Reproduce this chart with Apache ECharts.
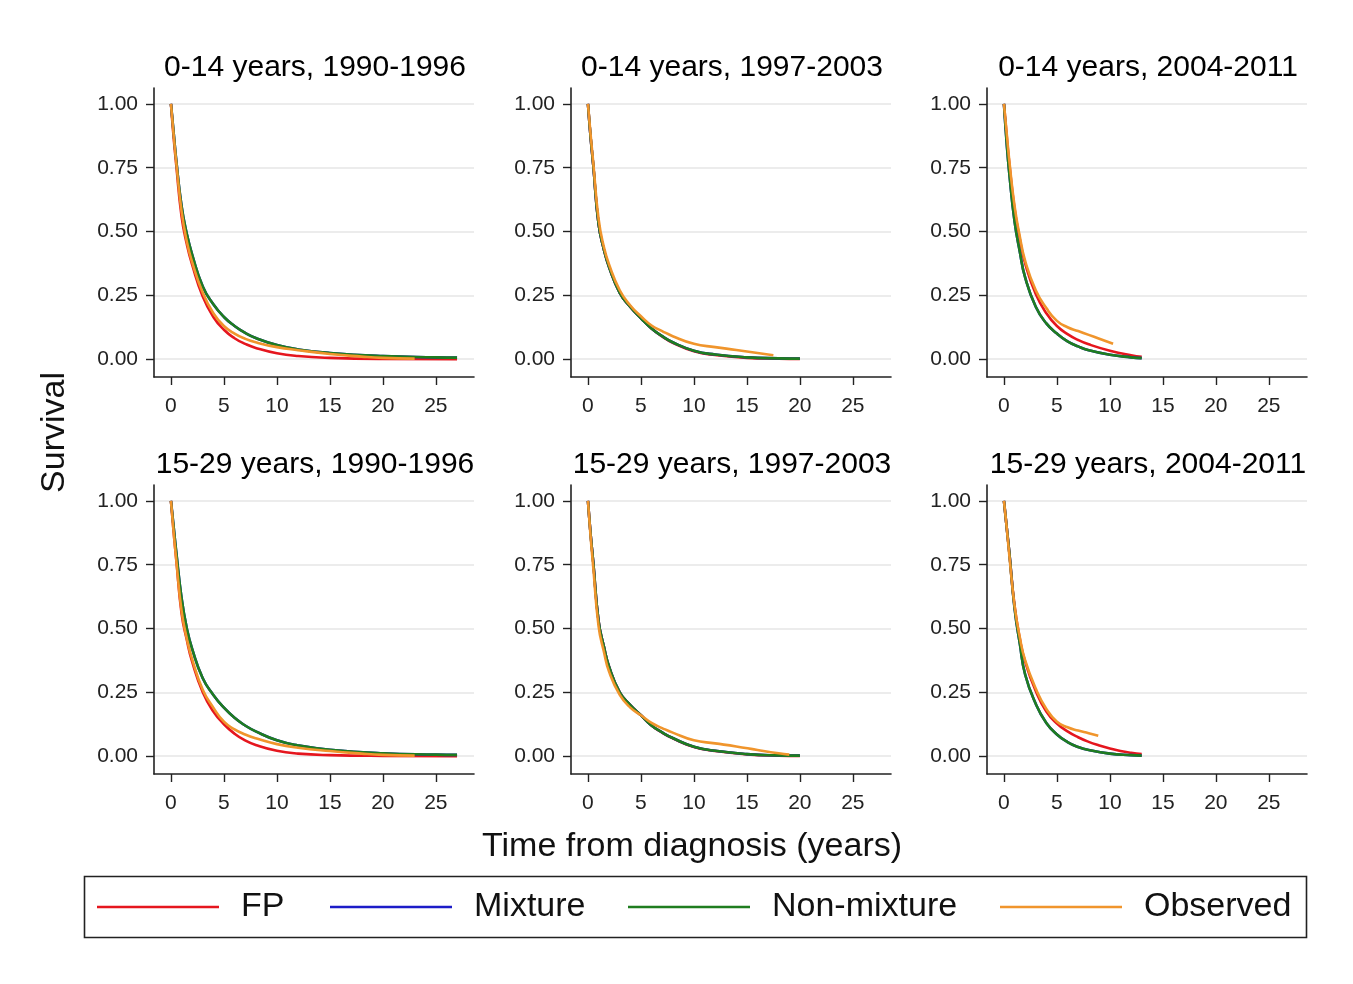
<!DOCTYPE html>
<html>
<head>
<meta charset="utf-8">
<script src="https://cdn.jsdelivr.net/npm/echarts@6/dist/echarts.min.js"></script>
<style>html,body{margin:0;padding:0;background:#fff;}#c{width:1353px;height:984px;}</style>
</head>
<body>
<div id="c"></div>
<script>
// ---- data ----
const panelTitles = ["0-14 years, 1990-1996","0-14 years, 1997-2003","0-14 years, 2004-2011",
                     "15-29 years, 1990-1996","15-29 years, 1997-2003","15-29 years, 2004-2011"];
const modelNames = ["FP","Mixture","Non-mixture","Observed"];
const xTicks = [0,5,10,15,20,25];
const yTicks = [0,0.25,0.5,0.75,1];

// [time, survival] pairs
const p1_fp  = [[0,1],[0.25,0.87],[0.5,0.76],[1,0.56],[1.5,0.45],[2,0.37],[3,0.245],[4,0.165],[5,0.115],[6,0.082],[7,0.06],[8,0.044],[10,0.023],[12,0.012],[15,0.005],[20,0.001],[27,0]];
const p1_mix = [[0,1],[0.25,0.89],[0.5,0.78],[1,0.6],[1.5,0.49],[2,0.41],[3,0.285],[4,0.215],[5,0.165],[6,0.13],[7,0.103],[8,0.083],[10,0.055],[12,0.038],[15,0.024],[20,0.012],[25,0.007],[27,0.006]];
const p1_non = [[0,1],[0.25,0.89],[0.5,0.78],[1,0.6],[1.5,0.49],[2,0.41],[3,0.285],[4,0.215],[5,0.165],[6,0.13],[7,0.103],[8,0.083],[10,0.055],[12,0.038],[15,0.024],[20,0.012],[25,0.007],[27,0.006]];
const p1_obs = [[0,1],[0.25,0.88],[0.5,0.77],[1,0.58],[1.5,0.46],[2,0.38],[3,0.26],[4,0.18],[5,0.13],[6,0.1],[7,0.08],[8,0.066],[10,0.047],[12,0.035],[15,0.02],[18,0.01],[20,0.005],[23,0.002]];

const p2_fp  = [[0,1],[0.25,0.87],[0.5,0.76],[1,0.53],[1.5,0.43],[2,0.36],[3,0.26],[4,0.205],[5,0.16],[6,0.12],[7,0.089],[8,0.064],[10,0.031],[12,0.016],[15,0.005],[18,0.002],[20,0.001]];
const p2_mix = [[0,1],[0.25,0.87],[0.5,0.76],[1,0.53],[1.5,0.43],[2,0.36],[3,0.26],[4,0.205],[5,0.16],[6,0.12],[7,0.09],[8,0.066],[10,0.033],[12,0.018],[15,0.007],[18,0.003],[20,0.002]];
const p2_non = [[0,1],[0.25,0.87],[0.5,0.76],[1,0.53],[1.5,0.43],[2,0.36],[3,0.26],[4,0.205],[5,0.16],[6,0.12],[7,0.09],[8,0.066],[10,0.033],[12,0.018],[15,0.007],[18,0.003],[20,0.002]];
const p2_obs = [[0,1],[0.25,0.88],[0.5,0.77],[1,0.55],[1.5,0.44],[2,0.37],[3,0.27],[4,0.21],[5,0.168],[6,0.132],[7,0.11],[8,0.09],[10,0.06],[12,0.047],[14,0.036],[16,0.024],[17.5,0.015]];

const p3_fp  = [[0,1],[0.25,0.88],[0.5,0.77],[1,0.59],[1.5,0.47],[2,0.375],[3,0.255],[4,0.18],[5,0.13],[6,0.098],[7,0.075],[8,0.058],[10,0.033],[12,0.015],[13,0.009]];
const p3_mix = [[0,1],[0.25,0.85],[0.5,0.73],[1,0.54],[1.5,0.42],[2,0.32],[3,0.205],[4,0.14],[5,0.1],[6,0.07],[7,0.05],[8,0.035],[10,0.017],[12,0.007],[13,0.004]];
const p3_non = [[0,1],[0.25,0.85],[0.5,0.73],[1,0.54],[1.5,0.42],[2,0.32],[3,0.205],[4,0.14],[5,0.1],[6,0.07],[7,0.05],[8,0.035],[10,0.017],[12,0.007],[13,0.004]];
const p3_obs = [[0,1],[0.25,0.89],[0.5,0.78],[1,0.6],[1.5,0.48],[2,0.385],[3,0.27],[4,0.2],[5,0.15],[6,0.125],[7,0.11],[8,0.095],[9,0.08],[10.3,0.06]];

const p4_fp  = [[0,1],[0.25,0.88],[0.5,0.77],[1,0.56],[1.5,0.455],[2,0.37],[3,0.25],[4,0.175],[5,0.125],[6,0.088],[7,0.062],[8,0.044],[10,0.021],[12,0.01],[15,0.004],[20,0.001],[27,0]];
const p4_mix = [[0,1],[0.25,0.9],[0.5,0.8],[1,0.62],[1.5,0.5],[2,0.42],[3,0.305],[4,0.24],[5,0.19],[6,0.15],[7,0.12],[8,0.097],[10,0.062],[12,0.042],[15,0.025],[20,0.011],[25,0.006],[27,0.005]];
const p4_non = [[0,1],[0.25,0.9],[0.5,0.8],[1,0.62],[1.5,0.5],[2,0.42],[3,0.305],[4,0.24],[5,0.19],[6,0.15],[7,0.12],[8,0.097],[10,0.062],[12,0.042],[15,0.025],[20,0.011],[25,0.006],[27,0.005]];
const p4_obs = [[0,1],[0.25,0.88],[0.5,0.77],[1,0.57],[1.5,0.46],[2,0.38],[3,0.26],[4,0.19],[5,0.135],[6,0.105],[7,0.085],[8,0.07],[10,0.047],[12,0.033],[15,0.02],[18,0.01],[20,0.005],[23,0.002]];

const p5_fp  = [[0,1],[0.25,0.87],[0.5,0.76],[1,0.53],[1.5,0.43],[2,0.35],[3,0.25],[4,0.2],[5,0.16],[6,0.12],[7,0.092],[8,0.07],[10,0.036],[12,0.02],[15,0.007],[18,0.002],[20,0.001]];
const p5_mix = [[0,1],[0.25,0.87],[0.5,0.76],[1,0.53],[1.5,0.43],[2,0.35],[3,0.25],[4,0.2],[5,0.16],[6,0.12],[7,0.093],[8,0.071],[10,0.037],[12,0.021],[15,0.008],[18,0.003],[20,0.002]];
const p5_non = [[0,1],[0.25,0.87],[0.5,0.76],[1,0.53],[1.5,0.43],[2,0.35],[3,0.25],[4,0.2],[5,0.16],[6,0.12],[7,0.093],[8,0.071],[10,0.037],[12,0.021],[15,0.008],[18,0.003],[20,0.002]];
const p5_obs = [[0,1],[0.25,0.86],[0.5,0.74],[1,0.51],[1.5,0.41],[2,0.33],[3,0.24],[4,0.19],[5,0.16],[6,0.13],[7,0.11],[8,0.092],[10,0.062],[12,0.05],[14,0.038],[16,0.024],[18,0.011],[19,0.006]];

const p6_fp  = [[0,1],[0.25,0.9],[0.5,0.8],[1,0.59],[1.5,0.46],[2,0.37],[3,0.255],[4,0.175],[5,0.128],[6,0.097],[7,0.074],[8,0.056],[9,0.042],[10,0.03],[11,0.02],[12,0.013],[13,0.008]];
const p6_mix = [[0,1],[0.25,0.9],[0.5,0.8],[1,0.58],[1.5,0.44],[2,0.32],[3,0.205],[4,0.13],[5,0.085],[6,0.055],[7,0.036],[8,0.024],[10,0.01],[12,0.004],[13,0.002]];
const p6_non = [[0,1],[0.25,0.9],[0.5,0.8],[1,0.58],[1.5,0.44],[2,0.32],[3,0.205],[4,0.13],[5,0.085],[6,0.055],[7,0.036],[8,0.024],[10,0.01],[12,0.004],[13,0.002]];
const p6_obs = [[0,1],[0.25,0.9],[0.5,0.79],[1,0.59],[1.5,0.465],[2,0.375],[3,0.265],[4,0.185],[5,0.135],[6,0.113],[7,0.1],[8,0.09],[8.9,0.08]];

const panelData = [
  [p1_fp,p1_mix,p1_non,p1_obs],[p2_fp,p2_mix,p2_non,p2_obs],[p3_fp,p3_mix,p3_non,p3_obs],
  [p4_fp,p4_mix,p4_non,p4_obs],[p5_fp,p5_mix,p5_non,p5_obs],[p6_fp,p6_mix,p6_non,p6_obs]
];

// ---- styles / layout ----
const colors = ["#e5161e","#1c1cc8","#1f7d1f","#f0952c"];
const FONT = "Liberation Sans, Arial, sans-serif";
const colLeft = [154, 571, 987];
const gridW = 320;
const rowTop = [88, 485];
const gridH = [289, 289];

const grids=[], xAxes=[], yAxes=[], titles=[], series=[];
for (let i=0;i<6;i++){
  const r = Math.floor(i/3), c = i%3;
  grids.push({left: colLeft[c], top: rowTop[r], width: gridW, height: gridH[r]});
  titles.push({text: panelTitles[i], left: colLeft[c] + gridW/2 - 4, top: rowTop[r] - 40, textAlign: 'center',
    textStyle:{fontFamily: FONT, fontSize: 30, fontWeight: 'normal', color:'#000'}});
  xAxes.push({type:'value', gridIndex:i, min:-1.6, max:28.6,
    axisLine:{show:true, onZero:false, lineStyle:{color:'#222', width:1.6}},
    axisTick:{show:true, length:8, customValues: xTicks, lineStyle:{color:'#222', width:1.4}},
    axisLabel:{customValues: xTicks, margin:19, fontFamily: FONT, fontSize:21, color:'#222'},
    splitLine:{show:false}});
  yAxes.push({type:'value', gridIndex:i, min:-0.07, max:1.0625,
    axisLine:{show:true, onZero:false, lineStyle:{color:'#222', width:1.6}},
    axisTick:{show:true, length:8, customValues: yTicks, lineStyle:{color:'#222', width:1.4}},
    axisLabel:{customValues: yTicks, margin:16, fontFamily: FONT, fontSize:21, color:'#222',
      formatter: v => v.toFixed(2)},
    splitLine:{show:true, lineStyle:{color:'#ececec', width:2}}});
  for (let m=0;m<4;m++){
    series.push({name: modelNames[m], type:'line', xAxisIndex:i, yAxisIndex:i,
      data: panelData[i][m], showSymbol:false, smooth:0.5,
      lineStyle:{color: colors[m], width:2.6}, itemStyle:{color: colors[m]},
      z: 2+m, animation:false, silent:true});
  }
}

// legends (one item each)
const legendLeft = [97, 330, 628, 1000];
const legends = modelNames.map((n,k)=>({data:[n], left: legendLeft[k], top: 890, padding:0,
  icon:'rect', itemWidth:122, itemHeight:2.5, selectedMode:false,
  textStyle:{fontFamily: FONT, fontSize:34, color:'#111', padding:[0,0,0,17]}}));

const option = {
  backgroundColor:'#fff',
  animation:false,
  title: titles,
  grid: grids, xAxis: xAxes, yAxis: yAxes, series: series,
  legend: legends,
  graphic: [
    {type:'text', left: 38, top: 372, rotation: Math.PI/2,
      style:{text:'Survival', fontFamily: FONT, fontSize:34, fill:'#111'}},
    {type:'text', left: 482, top: 830,
      style:{text:'Time from diagnosis (years)', fontFamily: FONT, fontSize:34, fill:'#111'}},
    {type:'rect', left: 82, top: 874, shape:{width:1222, height:61},
      style:{fill:'none', stroke:'#222', lineWidth:1.6}}
  ]
};
const chart = echarts.init(document.getElementById('c'), null, {renderer:'canvas'});
chart.setOption(option);
</script>
</body>
</html>
